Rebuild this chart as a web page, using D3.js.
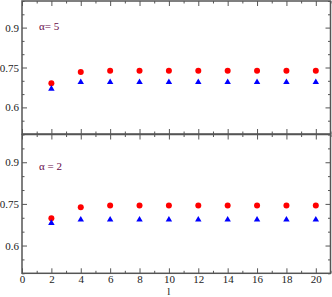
<!DOCTYPE html>
<html>
<head>
<meta charset="utf-8">
<script src="https://cdn.jsdelivr.net/npm/d3@7"></script>
<style>
  body { margin: 0; background: #fff; }
  svg text { font-family: "Liberation Serif", "DejaVu Serif", serif; }
  .axis path, .axis line { stroke: #555; }
  .axis text { fill: #222; font-size: 11px; font-family: "Liberation Serif", serif; }
</style>
</head>
<body>
<script>
// chart values
const lValues = [2, 4, 6, 8, 10, 12, 14, 16, 18, 20];
const panelLabels = ['α= 5', 'α = 2'];
const circleTop = [0.691, 0.733, 0.738, 0.738, 0.738, 0.738, 0.738, 0.738, 0.738, 0.738];
const triangleTop = [0.670, 0.695, 0.695, 0.695, 0.695, 0.695, 0.695, 0.695, 0.695, 0.695];
const circleBottom = [0.698, 0.738, 0.744, 0.744, 0.744, 0.744, 0.744, 0.744, 0.744, 0.744];
const triangleBottom = [0.681, 0.693, 0.693, 0.693, 0.693, 0.693, 0.693, 0.693, 0.693, 0.693];
const xMajor = [0, 2, 4, 6, 8, 10, 12, 14, 16, 18, 20];
const xMinor = [1, 3, 5, 7, 9, 11, 13, 15, 17, 19, 21];
const yMajor = [0.6, 0.75, 0.9];
const yMinor = [0.5, 0.55, 0.65, 0.7, 0.8, 0.85, 0.95, 1.0];

const width = 332, height = 297;
const left = 22, right = 330.5;

const svg = d3.select('body').append('svg')
  .attr('width', width)
  .attr('height', height);

const x = d3.scaleLinear().domain([0, 21]).range([left, right]);

const panels = [
  { top: 1, bottom: 134, circles: circleTop, triangles: triangleTop, label: panelLabels[0], labelY: 30, xLabels: false },
  { top: 134.5, bottom: 273.3, circles: circleBottom, triangles: triangleBottom, label: panelLabels[1], labelY: 169.5, xLabels: true },
];

panels.forEach((p) => {
  const y = d3.scaleLinear().domain([0.5, 1.0]).range([p.bottom, p.top]);
  const g = svg.append('g');

  // inward ticks on all four sides
  const tickSets = [
    [d3.axisLeft(y), yMajor, yMinor, left, 0],
    [d3.axisRight(y), yMajor, yMinor, right, 0],
    [d3.axisBottom(x), xMajor, xMinor, 0, p.bottom],
    [d3.axisTop(x), xMajor, xMinor, 0, p.top],
  ];
  tickSets.forEach(([axis, major, minor, tx, ty]) => {
    g.append('g').attr('class', 'axis')
      .attr('transform', `translate(${tx},${ty})`)
      .call(axis.tickValues(major).tickSize(-5).tickFormat('').tickSizeOuter(0))
      .call((s) => s.select('.domain').remove());
    g.append('g').attr('class', 'axis')
      .attr('transform', `translate(${tx},${ty})`)
      .call(axis.tickValues(minor).tickSize(-2.5).tickFormat('').tickSizeOuter(0))
      .call((s) => s.select('.domain').remove());
  });

  // frame
  g.append('rect')
    .attr('x', left).attr('y', p.top)
    .attr('width', right - left).attr('height', p.bottom - p.top)
    .attr('fill', 'none').attr('stroke', '#555').attr('stroke-width', 1.5);

  // y tick labels
  g.append('g').attr('class', 'axis')
    .attr('transform', `translate(${left},0)`)
    .call(d3.axisLeft(y).tickValues(yMajor).tickSize(0).tickPadding(3).tickFormat(d3.format('')))
    .call((s) => s.select('.domain').remove());

  // x tick labels only on the lowest panel
  if (p.xLabels) {
    g.append('g').attr('class', 'axis')
      .attr('transform', `translate(0,${p.bottom})`)
      .call(d3.axisBottom(x).tickValues(xMajor).tickSize(0).tickPadding(2))
      .call((s) => s.select('.domain').remove());
  }

  // panel label
  g.append('text')
    .attr('x', 39).attr('y', p.labelY)
    .attr('fill', '#670748')
    .style('font-size', '11px')
    .text(p.label);

  // red circles
  g.selectAll('circle.pt')
    .data(lValues.map((l, i) => [l, p.circles[i]]))
    .join('circle')
    .attr('class', 'pt')
    .attr('cx', (d) => x(d[0]))
    .attr('cy', (d) => y(d[1]))
    .attr('r', 3)
    .attr('fill', '#ff0000');

  // blue triangles
  const tri = d3.symbol().type(d3.symbolTriangle).size(18);
  g.selectAll('path.tri')
    .data(lValues.map((l, i) => [l, p.triangles[i]]))
    .join('path')
    .attr('class', 'tri')
    .attr('d', tri)
    .attr('transform', (d) => `translate(${x(d[0])},${y(d[1])})`)
    .attr('fill', '#0000ff');
});

// x axis title
svg.append('text')
  .attr('x', x(10)).attr('y', 295)
  .attr('text-anchor', 'middle')
  .style('font-size', '11px')
  .attr('fill', '#222')
  .text('l');
</script>
</body>
</html>
